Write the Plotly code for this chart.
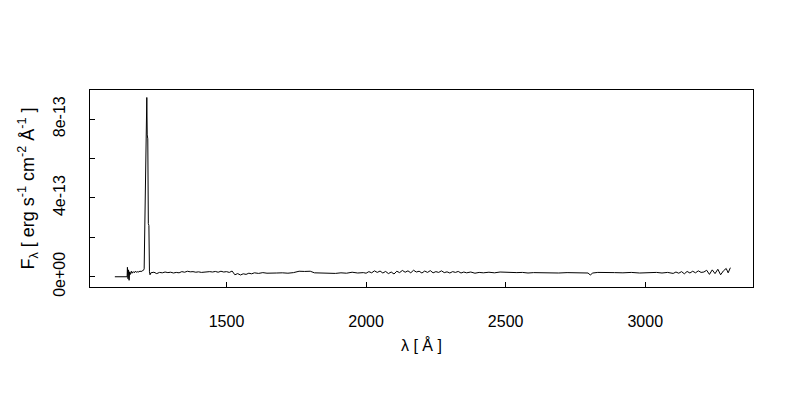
import plotly.graph_objects as go

# Wavelength (Angstrom) and flux (units of 1e-14 erg s^-1 cm^-2 A^-1)
wavelength = [
    1100, 1144, 1145, 1147, 1149, 1151, 1153, 1156, 1159, 1162, 1166, 1170, 1174, 1178,
    1182, 1186, 1190, 1194, 1198, 1202, 1205, 1207, 1209, 1211, 1213, 1214.5, 1216, 1218,
    1220, 1222, 1224, 1226, 1229,
    1240, 1250, 1260, 1270, 1280, 1290, 1300, 1310, 1320, 1330, 1340, 1350, 1360, 1370,
    1380, 1390, 1400, 1410, 1420, 1430, 1440, 1450, 1460, 1470, 1480, 1490, 1500,
    1510, 1520, 1530, 1540, 1550, 1560, 1570, 1580, 1590, 1600, 1615, 1630, 1645, 1660,
    1680, 1700, 1720, 1740, 1760, 1780, 1800, 1815, 1830, 1850, 1870, 1890, 1910, 1930,
    1950, 1970, 1990, 2000, 2010, 2020, 2030, 2040, 2050, 2060, 2070, 2080, 2090, 2100,
    2110, 2120, 2130, 2140, 2150, 2160, 2170, 2180, 2190, 2200, 2210, 2220, 2230, 2240,
    2250, 2260, 2270, 2280, 2290, 2300, 2310, 2320, 2330, 2340, 2350, 2360, 2375, 2390,
    2405, 2420, 2440, 2460, 2480, 2500, 2520, 2540, 2560, 2580, 2600, 2630, 2660, 2690,
    2720, 2750, 2780, 2795, 2803, 2812, 2830, 2860, 2890, 2920, 2950, 2980, 3000, 3020,
    3040, 3060, 3080, 3100, 3110, 3120, 3130, 3140, 3150, 3160, 3170, 3180, 3190, 3200,
    3210, 3220, 3230, 3240, 3250, 3260, 3270, 3280, 3290, 3297, 3305,
]
flux_1e14 = [
    0.0, 0.0, 4.8, -1.0, 3.5, -1.8, 2.5, 1.2, 2.8, 1.8, 2.6, 2.0, 2.9, 2.2,
    2.6, 2.4, 2.9, 2.6, 3.0, 3.2, 4.0, 23.0, 30.0, 74.0, 80.0, 91.0, 72.0, 70.0,
    27.0, 26.0, 2.5, 1.0, 2.0,
    2.3, 1.6, 2.2, 2.0, 2.4, 2.1, 2.3, 1.9, 2.2, 2.0, 2.6, 2.3, 2.8, 2.5,
    2.6, 2.3, 2.5, 2.2, 2.4, 2.3, 2.6, 2.4, 2.7, 2.3, 2.8, 2.4, 2.6,
    2.2, 2.9, 1.0, 1.6, 0.9, 1.5, 1.2, 1.8, 1.5, 2.0, 1.7, 2.1, 1.8, 2.0,
    1.9, 2.0, 1.8, 2.1, 2.8, 2.7, 2.8, 2.0, 1.9, 1.6, 1.8, 1.7, 2.0, 1.8,
    2.3, 1.9, 2.1, 1.8, 2.6, 2.0, 3.0, 2.2, 2.9, 1.9, 2.7, 1.6, 2.4, 1.4,
    2.8, 2.1, 3.2, 2.3, 3.0, 2.0, 3.3, 2.4, 2.8, 1.9, 2.9, 2.2, 3.1, 2.0,
    2.6, 2.2, 3.0, 2.1, 2.5, 1.9, 2.6, 2.2, 2.7, 1.9, 2.4, 2.0, 2.4, 1.8,
    2.2, 2.0, 2.3, 2.0, 2.4, 2.2, 2.3, 2.1, 2.2, 1.9, 2.1, 2.0, 2.1, 1.9,
    2.1, 2.0, 2.1, 1.9, 0.9, 1.9, 2.2, 2.0, 2.1, 2.0, 2.2, 1.9, 2.1, 2.0,
    2.2, 1.9, 2.2, 1.7, 2.4, 1.8, 2.6, 1.5, 2.7, 1.9, 2.8, 2.0, 3.0, 2.2,
    2.4, 3.3, 1.2, 3.5, 1.6, 3.8, 1.0, 3.0, 4.2, 2.0, 4.6,
]
flux = [v * 1e-14 for v in flux_1e14]

y_tickvals = [0, 2e-13, 4e-13, 6e-13, 8e-13]
y_ticktext = ["0e+00", "", "4e-13", "", "8e-13"]
x_tickvals = [1500, 2000, 2500, 3000]
x_ticktext = ["1500", "2000", "2500", "3000"]

FONT = "Liberation Sans, Arial, Helvetica, sans-serif"

fig = go.Figure()
fig.add_trace(go.Scatter(x=wavelength, y=flux, mode="lines",
                         line=dict(color="black", width=1), showlegend=False,
                         hoverinfo="skip"))

fig.update_layout(
    width=800, height=400,
    margin=dict(l=82, r=55, t=82, b=121),
    paper_bgcolor="white", plot_bgcolor="white",
    font=dict(family=FONT, size=16, color="black"),
    xaxis=dict(range=[1011, 3386], showgrid=False, zeroline=False, automargin=False,
               showline=True, linecolor="black", linewidth=1, mirror=True,
               ticks="inside", ticklen=5, tickcolor="black",
               tickvals=x_tickvals, ticktext=x_ticktext, ticklabelstandoff=20),
    yaxis=dict(range=[-0.52e-13, 9.48e-13], showgrid=False, zeroline=False, automargin=False,
               showline=True, linecolor="black", linewidth=1, mirror=True,
               ticks="inside", ticklen=5, tickcolor="black",
               tickvals=y_tickvals, ticktext=y_ticktext, tickangle=-90,
               ticklabelstandoff=18),
    annotations=[
        dict(text="λ [ Å ]", xref="paper", yref="paper", x=0.5, y=0,
             yshift=-58, showarrow=False, xanchor="center", yanchor="middle",
             font=dict(family=FONT, size=16)),
        dict(text="F<sub>λ</sub> [ erg s<sup>-1</sup> cm<sup>-2</sup> Å<sup>-1</sup> ]",
             xref="paper", yref="paper", x=0, y=0.5, xshift=-62, showarrow=False,
             textangle=-90, xanchor="center", yanchor="middle",
             font=dict(family=FONT, size=18)),
    ],
)

fig.write_html("out.html")
